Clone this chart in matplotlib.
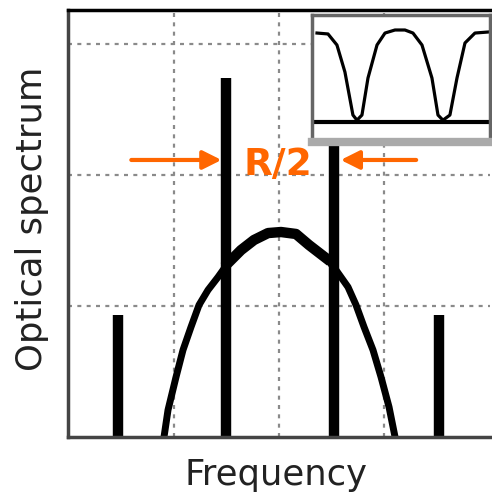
import numpy as np
import matplotlib
matplotlib.use('Agg')
import matplotlib.pyplot as plt

# spectral lines: position and height
line_pos = [0.47, 1.50, 2.52, 3.52]
line_height = [0.93, 2.74, 2.74, 0.93]

# broad spectrum envelope
env_x = [0.910, 0.948, 1.024, 1.090, 1.166, 1.242, 1.327, 1.422, 1.517, 1.640, 1.763, 1.896, 2.019,
         2.161, 2.284, 2.445, 2.540, 2.654, 2.730, 2.806, 2.891, 2.967, 3.043, 3.100]
env_y = [0.000, 0.206, 0.458, 0.664, 0.840, 1.008, 1.122, 1.221, 1.328, 1.427, 1.504, 1.557, 1.565,
         1.550, 1.466, 1.366, 1.275, 1.145, 1.008, 0.840, 0.664, 0.458, 0.229, 0.000]

# inset: filter transmission with two notches
ins_x = [0.535, 0.663, 0.767, 0.860, 0.953, 1.000, 1.058, 1.128, 1.233, 1.326, 1.442,
         1.558, 1.651, 1.756, 1.872, 1.942, 2.000, 2.081, 2.163, 2.256, 2.372, 2.523]
ins_y = [0.967, 0.957, 0.837, 0.543, 0.076, 0.020, 0.076, 0.478, 0.837, 0.967, 1.000,
         1.000, 0.967, 0.837, 0.478, 0.076, 0.020, 0.076, 0.478, 0.859, 0.967, 0.978]

orange = '#ff6600'

fig = plt.figure(figsize=(4.92, 4.95), dpi=100)
ax = fig.add_axes([68 / 492, 1 - 437 / 495, 422 / 492, 427 / 495])

ax.set_xlim(0, 4)
ax.set_ylim(0, 3.26)
ax.set_xticks([1, 2, 3])
ax.set_yticks([1, 2, 3])
ax.tick_params(length=0, labelbottom=False, labelleft=False)
ax.grid(True, color='#8a8a8a', linewidth=1.6, linestyle=(0, (1.8, 2.4)))
ax.set_axisbelow(True)

for side in ['left', 'bottom']:
    ax.spines[side].set_color('#444444')
    ax.spines[side].set_linewidth(2.5)
ax.spines['top'].set_color('black')
ax.spines['top'].set_linewidth(2.5)
ax.spines['right'].set_visible(False)

# envelope, a bit heavier between the two inner lines
ax.plot(env_x, env_y, color='black', linewidth=5, solid_capstyle='butt', solid_joinstyle='round')
ex = np.array(env_x)
ey = np.array(env_y)
top = (ex >= line_pos[1]) & (ex <= line_pos[2])
ax.plot(ex[top], ey[top], color='black', linewidth=7.5, solid_joinstyle='round')
ax.vlines(line_pos, 0, line_height, color='black', linewidth=7.5)

# R/2 label with arrows
ax.text(1.99, 2.0, 'R/2', color=orange, fontsize=27, fontweight='bold', ha='center', va='baseline')
arrow = dict(arrowstyle='-|>', color=orange, lw=3, mutation_scale=28, shrinkA=0, shrinkB=0)
ax.annotate('', xy=(1.455, 2.115), xytext=(0.60, 2.115), arrowprops=arrow)
ax.annotate('', xy=(2.585, 2.115), xytext=(3.30, 2.115), arrowprops=arrow)

# inset
axi = fig.add_axes([312 / 492, 1 - 142 / 495, 178 / 492, 127 / 495])
axi.set_xlim(0.477, 2.547)
axi.set_ylim(-0.217, 1.163)
axi.set_xticks([])
axi.set_yticks([])
for side in ['left', 'top', 'right']:
    axi.spines[side].set_color('#666666')
    axi.spines[side].set_linewidth(2.5)
axi.spines['bottom'].set_color('#aaaaaa')
axi.spines['bottom'].set_linewidth(6)
axi.axhline(0, color='black', linewidth=3)
axi.plot(ins_x, ins_y, color='black', linewidth=2.3, solid_joinstyle='round')

# axis labels
fig.text(32 / 492, 1 - 219 / 495, 'Optical spectrum', rotation=90, fontsize=25.5,
         color='#222222', ha='center', va='center')
fig.text(276 / 492, 1 - 485 / 495, 'Frequency', fontsize=25.5,
         color='#222222', ha='center', va='baseline')

fig.savefig('out.png', dpi=100)
